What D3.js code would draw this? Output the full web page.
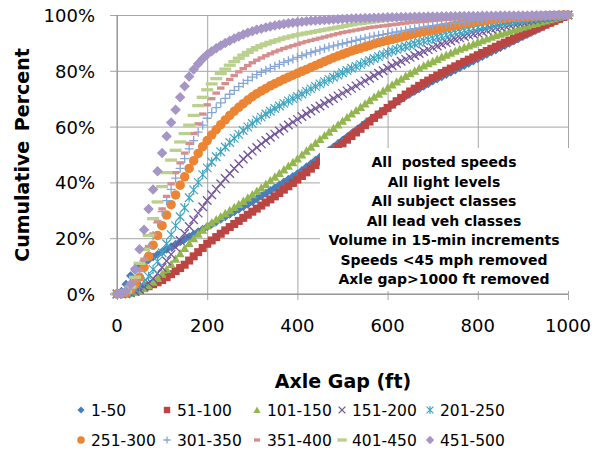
<!DOCTYPE html>
<html><head><meta charset="utf-8">
<script src="https://cdn.jsdelivr.net/npm/d3@7"></script>
<style>body{margin:0;background:#fff}svg{display:block}text{font-family:"DejaVu Sans",Verdana,sans-serif}</style>
</head><body><svg id="c" width="594" height="454"></svg>
<script>
// ---------- DATA ----------
const axleGap = [0,10,20,30,40,50,60,70,80,90,100,110,120,130,140,150,160,170,180,190,200,
210,220,230,240,250,260,270,280,290,300,310,320,330,340,350,360,370,380,390,400,
410,420,430,440,450,460,470,480,490,500,510,520,530,540,550,560,570,580,590,600,
610,620,630,640,650,660,670,680,690,700,710,720,730,740,750,760,770,780,790,800,
810,820,830,840,850,860,870,880,890,900,910,920,930,940,950,960,970,980,990,1000];

const v1_50 = [0,
1,3.5,6.5,8.5,10,11.2,12.3,13.3,14.2,15.1,
16,16.9,17.8,18.7,19.6,20.5,21.4,22.3,23.2,24.1,
25,25.9,26.8,27.7,28.6,29.5,30.4,31.3,32.2,33.1,
34.1,35.1,36.1,37.1,38.1,39.1,40.1,41.1,42.1,43.1,
44.3,45.5,46.7,47.9,49.1,50.3,51.5,52.7,53.9,55.1,
56.3,57.5,58.7,59.9,61.1,62.2,63.3,64.4,65.5,66.6,
67.9,68.9,69.9,70.9,71.8,72.7,73.6,74.5,75.4,76.3,
77.1,77.9,78.7,79.5,80.3,81.1,81.9,82.7,83.5,84.3,
85.1,85.9,86.7,87.5,88.3,89.1,89.9,90.7,91.5,92.3,
93.1,93.9,94.7,95.5,96.3,97.1,97.8,98.5,99.2,100];

const v51_100 = [0,
0,0.2,0.5,1,1.5,2.1,2.8,3.5,4.2,5,
6,7.1,8.2,9.3,10.5,12,13.5,15,16.5,18,
19.2,20.4,21.6,22.8,24,25.1,26.2,27.3,28.4,29.5,
30.6,31.7,32.8,33.9,35,36.2,37.4,38.6,39.8,41,
42.3,43.6,44.9,46.2,47.5,48.8,50.1,51.4,52.7,54,
55.3,56.6,57.9,59.2,60.5,61.8,63.1,64.3,65.5,66.7,
67.9,69.1,70.3,71.5,72.6,73.6,74.6,75.6,76.5,77.4,
78.3,79.2,80,80.8,81.6,82.4,83.2,84,84.8,85.6,
86.4,87.1,87.9,88.6,89.4,90.1,90.8,91.5,92.3,93,
93.7,94.4,95.1,95.8,96.5,97.2,97.9,98.6,99.3,100];

const v101_150 = [0,
0,0.1,0.3,0.7,1.3,2.1,3.1,4.3,5.7,7.2,
8.9,10.7,12.6,14.5,16.4,18.2,19.9,21.5,23,24.5,
25.6,26.7,27.8,28.9,30,31.1,32.2,33.3,34.5,35.7,
36.9,38.1,39.4,40.7,42,43.3,44.6,45.9,47.2,48.5,
49.9,51.3,52.7,54.1,55.5,56.8,58.1,59.4,60.7,62,
63.3,64.6,65.8,67,68.2,69.4,70.6,71.7,72.8,73.9,
75,76.1,77.1,78.1,79.1,80,80.9,81.8,82.6,83.4,
84.2,85,85.7,86.4,87.1,87.8,88.4,89,89.6,90.3,
90.9,91.5,92.1,92.7,93.2,93.7,94.2,94.7,95.2,95.7,
96.2,96.7,97.1,97.6,98,98.4,98.8,99.2,99.6,100];

const v151_200 = [0,
0,0.1,0.4,0.9,1.6,2.6,3.9,5.5,7.4,9.5,
11.8,14.2,16.7,19.2,21.7,24.2,26.6,29,31.3,33.5,
35.6,37.6,39.5,41.4,43.2,45,46.7,48.4,49.8,51.2,
52.5,53.8,55,56.2,57.3,58.4,59.5,60.6,61.6,62.6,
63.6,64.6,65.6,66.5,67.4,68.3,69.2,70.1,71,71.9,
72.8,73.7,74.6,75.5,76.4,77.3,78.2,79.1,80,80.9,
81.8,82.6,83.4,84.1,84.8,85.5,86.2,86.9,87.6,88.3,
88.9,89.5,90.1,90.7,91.3,91.8,92.3,92.8,93.2,93.6,
94,94.5,95,95.4,95.8,96.2,96.6,97,97.3,97.6,
97.9,98.2,98.5,98.8,99,99.2,99.4,99.6,99.8,100];

const v201_250 = [0,
0.1,0.3,0.8,1.6,2.8,4.3,6.3,8.8,11.7,14.8,
18,21.3,24.5,27.7,30.9,34.5,37.3,40,42.8,45.2,
47.3,49.2,51,52.7,54.3,55.8,57.2,58.6,59.9,61.1,
62.3,63.4,64.5,65.5,66.5,67.4,68.3,69.2,70,70.8,
71.7,72.6,73.5,74.4,75.3,76.1,76.9,77.7,78.5,79.3,
80.1,80.9,81.6,82.3,83,83.7,84.4,85.1,85.8,86.5,
87.1,87.7,88.2,88.7,89.2,89.7,90.2,90.7,91.2,91.7,
92.1,92.5,92.9,93.3,93.7,94.1,94.5,94.9,95.2,95.5,
95.8,96.1,96.4,96.7,97,97.3,97.55,97.8,98.05,98.3,
98.5,98.7,98.9,99.1,99.25,99.4,99.55,99.7,99.85,100];

const v251_300 = [0,
0.2,0.5,1.5,3.5,6,9.5,13.5,17.5,21,24.5,
28.3,32,35.5,39,42,45,47.8,50.4,52.8,55,
57,58.9,60.7,62.4,64,65.5,66.9,68.2,69.5,70.7,
71.8,72.8,73.7,74.6,75.4,76.2,77,77.7,78.4,79.1,
79.8,80.5,81.2,81.9,82.6,83.3,84,84.7,85.3,85.9,
86.5,87.1,87.6,88.1,88.6,89.1,89.6,90.1,90.5,90.9,
91.3,91.7,92.1,92.5,92.9,93.3,93.7,94,94.3,94.6,
94.95,95.3,95.65,96,96.3,96.6,96.9,97.2,97.45,97.7,
97.9,98.1,98.3,98.5,98.65,98.8,98.95,99.1,99.2,99.3,
99.4,99.5,99.58,99.66,99.74,99.8,99.86,99.91,99.96,100];

const v301_350 = [0,
0.2,0.6,2,4.5,8,12,16.5,21,25.5,29.5,
33.5,37.5,41.5,45,48.5,52,55,58,60.5,63,
65,66.8,68.5,70.1,71.6,73,74.3,75.5,76.6,77.7,
78.6,79.4,80.2,80.9,81.6,82.3,83,83.6,84.2,84.8,
85.4,86,86.5,87,87.5,88,88.5,88.9,89.3,89.7,
90.1,90.5,90.9,91.3,91.7,92.1,92.4,92.7,93,93.3,
93.6,93.9,94.2,94.5,94.8,95.1,95.4,95.7,96,96.2,
96.4,96.6,96.8,97,97.2,97.4,97.6,97.8,98,98.15,
98.3,98.45,98.6,98.7,98.8,98.9,99,99.1,99.2,99.3,
99.38,99.46,99.54,99.62,99.7,99.76,99.82,99.88,99.94,100];

const v351_400 = [0,
0.2,0.7,2,4.8,8.5,12.5,17,21.5,26,30.5,
35,39.5,43.5,47,50.5,54,57.5,61,64.5,67.8,
70,72,73.8,75.4,76.9,78.3,79.6,80.8,81.9,82.9,
83.8,84.6,85.4,86.1,86.8,87.4,88,88.5,89,89.5,
90,90.5,90.9,91.3,91.7,92.1,92.5,92.9,93.3,93.7,
94,94.3,94.6,94.9,95.2,95.5,95.7,95.9,96.1,96.3,
96.5,96.7,96.9,97.1,97.3,97.45,97.6,97.75,97.9,98.05,
98.2,98.32,98.44,98.56,98.68,98.8,98.9,99,99.1,99.2,
99.28,99.36,99.44,99.5,99.56,99.62,99.67,99.72,99.76,99.8,
99.83,99.86,99.89,99.91,99.93,99.95,99.97,99.98,99.99,100];

const v401_450 = [0,
0.2,0.8,2.5,6,11,16,21,27,33,38.5,
43.5,48,51.5,54.5,57.5,60.5,64,67.5,70.5,73.2,
75.3,77.2,79,80.6,82,83.3,84.5,85.6,86.6,87.5,
88.3,89,89.6,90.2,90.7,91.2,91.7,92.1,92.5,92.9,
93.2,93.5,93.8,94.1,94.4,94.7,95,95.3,95.6,95.9,
96.2,96.5,96.8,97,97.2,97.4,97.6,97.8,98,98.2,
98.35,98.5,98.6,98.7,98.8,98.9,98.98,99.06,99.14,99.2,
99.26,99.32,99.38,99.43,99.48,99.53,99.57,99.61,99.65,99.68,
99.71,99.74,99.77,99.8,99.82,99.84,99.86,99.88,99.9,99.91,
99.92,99.93,99.94,99.95,99.96,99.97,99.98,99.99,99.99,100];

const v451_500 = [0,
0.3,1,3.5,9,16,23,30.5,37.5,44,50.5,
56.5,61.5,66,70.5,74.5,78,80.5,82.5,84.3,85.8,
87,88.1,89.1,90,90.8,91.6,92.3,93,93.6,94.2,
94.7,95.1,95.5,95.9,96.2,96.5,96.8,97,97.2,97.4,
97.6,97.8,97.9,98,98.1,98.2,98.3,98.4,98.5,98.6,
98.7,98.75,98.8,98.85,98.9,98.95,99,99.05,99.1,99.15,
99.2,99.23,99.26,99.29,99.32,99.35,99.38,99.41,99.44,99.47,
99.5,99.52,99.54,99.56,99.58,99.6,99.62,99.64,99.66,99.68,
99.7,99.72,99.74,99.76,99.78,99.8,99.81,99.82,99.83,99.84,
99.86,99.88,99.9,99.91,99.92,99.94,99.96,99.97,99.99,100];

const seriesNames = ["1-50","51-100","101-150","151-200","201-250","251-300","301-350","351-400","401-450","451-500"];
const seriesValues = [v1_50,v51_100,v101_150,v151_200,v201_250,v251_300,v301_350,v351_400,v401_450,v451_500];
const xTickValues = [0,200,400,600,800,1000];
const yTickValues = [0,20,40,60,80,100];
const notes = ["All  posted speeds","All light levels","All subject classes","All lead veh classes","Volume in 15-min increments","Speeds <45 mph removed","Axle gap>1000 ft removed"];

// ---------- STYLE ----------
const styles = [
  {shape:"diamond", s:9, c:"#4A7EBB"},
  {shape:"square", s:8, c:"#BB4542"},
  {shape:"triangle", s:9, c:"#93B650"},
  {shape:"x", s:8.5, c:"#72559A", w:1.3},
  {shape:"star", s:8.5, c:"#41A6C2", w:1.2},
  {shape:"circle", s:9.5, c:"#EB8534"},
  {shape:"plus", s:9, c:"#86A6D8", w:1.3},
  {shape:"dash", s:7.5, h:3.3, c:"#D68E8C"},
  {shape:"dash", s:12, h:3.3, c:"#BAD08E"},
  {shape:"diamond", s:10.5, c:"#A696C6"}
];
function shapePath(st, k){
  const s = st.s*(k||1), r = s/2;
  switch(st.shape){
    case "diamond": return `M0,${-r}L${r},0L0,${r}L${-r},0Z`;
    case "square": return `M${-r},${-r}h${s}v${s}h${-s}Z`;
    case "triangle": return `M0,${-r}L${r},${r*0.85}L${-r},${r*0.85}Z`;
    case "x": return `M${-r},${-r}L${r},${r}M${r},${-r}L${-r},${r}`;
    case "star": return `M${-r},${-r}L${r},${r}M${r},${-r}L${-r},${r}M0,${-r-0.5}V${r+0.5}`;
    case "circle": return d3.arc()({innerRadius:0,outerRadius:r,startAngle:0,endAngle:2*Math.PI});
    case "plus": return `M${-r},0H${r}M0,${-r}V${r}`;
    case "dash": { const h=(st.h||3)/2; return `M${-r},${-h}h${s}v${2*h}h${-s}Z`; }
  }
}
function styleMark(sel, st){
  const stroked = ["x","star","plus"].includes(st.shape);
  sel.attr("fill", stroked ? "none" : st.c)
     .attr("stroke", stroked ? st.c : "none")
     .attr("stroke-width", stroked ? (st.w||1.25) : 0);
}

// ---------- CHART ----------
const svg = d3.select("#c");
const x = d3.scaleLinear().domain([0,1000]).range([117,568]);
const y = d3.scaleLinear().domain([0,100]).range([294,15]);
const gridColor = "#A6A6A6";

const gy = svg.append("g").attr("transform","translate(568,0)")
  .call(d3.axisLeft(y).tickValues(yTickValues).tickSize(568-110).tickFormat(""));
gy.select(".domain").remove();
gy.selectAll("line").attr("stroke",gridColor).attr("stroke-width",1);

const gx = svg.append("g").attr("transform","translate(0,300)")
  .call(d3.axisTop(x).tickValues(xTickValues).tickSize(300-15).tickFormat(""));
gx.select(".domain").remove();
gx.selectAll("line").attr("stroke",gridColor).attr("stroke-width",1);

svg.append("line").attr("x1",x(0)).attr("x2",x(0)).attr("y1",y(100)).attr("y2",y(0)).attr("stroke","#8C8C8C");
svg.append("line").attr("x1",110).attr("x2",x(1000)).attr("y1",y(0)).attr("y2",y(0)).attr("stroke","#8C8C8C");

seriesValues.forEach((vals, i) => {
  const st = styles[i];
  const pts = axleGap.map((g, j) => [g, vals[j]]).filter(d => d[1] !== undefined);
  const g = svg.append("g").attr("class","series s"+i);
  const p = shapePath(st);
  g.selectAll("path").data(pts).join("path")
    .attr("d", p)
    .attr("transform", d => `translate(${x(d[0])},${y(d[1])})`)
    .call(styleMark, st);
});

// annotation box
svg.append("rect").attr("x",320).attr("y",148).attr("width",254).attr("height",143).attr("fill","#fff");
svg.append("g").selectAll("text").data(notes).join("text")
  .attr("x",444).attr("y",(d,i)=>167+i*19.5)
  .attr("text-anchor","middle").attr("font-size",14).attr("font-weight","bold")
  .style("white-space","pre").attr("fill","#000").text(d=>d);

// tick labels
svg.append("g").selectAll("text").data(yTickValues).join("text")
  .attr("x",95).attr("y",d=>y(d)+7)
  .attr("text-anchor","end").attr("font-size",18).attr("fill","#000")
  .text(d=>d+"%");
svg.append("g").selectAll("text").data(xTickValues).join("text")
  .attr("x",d=>x(d)).attr("y",332)
  .attr("text-anchor","middle").attr("font-size",18).attr("fill","#000")
  .text(d=>d);

// axis titles
svg.append("text").attr("x",343).attr("y",388).attr("text-anchor","middle")
  .attr("font-size",19).attr("font-weight","bold").text("Axle Gap (ft)");
svg.append("text").attr("transform","translate(29,155) rotate(-90)").attr("text-anchor","middle")
  .attr("font-size",19).attr("font-weight","bold").style("word-spacing","3px").text("Cumulative Percent");

// legend
const legX = [81,167,257,342,430];
const legY = [410,440];
const leg = svg.append("g");
seriesNames.forEach((name,i)=>{
  const col = i%5, row = Math.floor(i/5);
  const st = styles[i];
  const g = leg.append("g").attr("transform",`translate(${legX[col]},${legY[row]})`);
  g.append("path").attr("d", shapePath(st, 0.8)).call(styleMark, st);
  g.append("text").attr("x",10).attr("y",6).attr("font-size",15.5).attr("fill","#000").text(name);
});
</script>
</body></html>
